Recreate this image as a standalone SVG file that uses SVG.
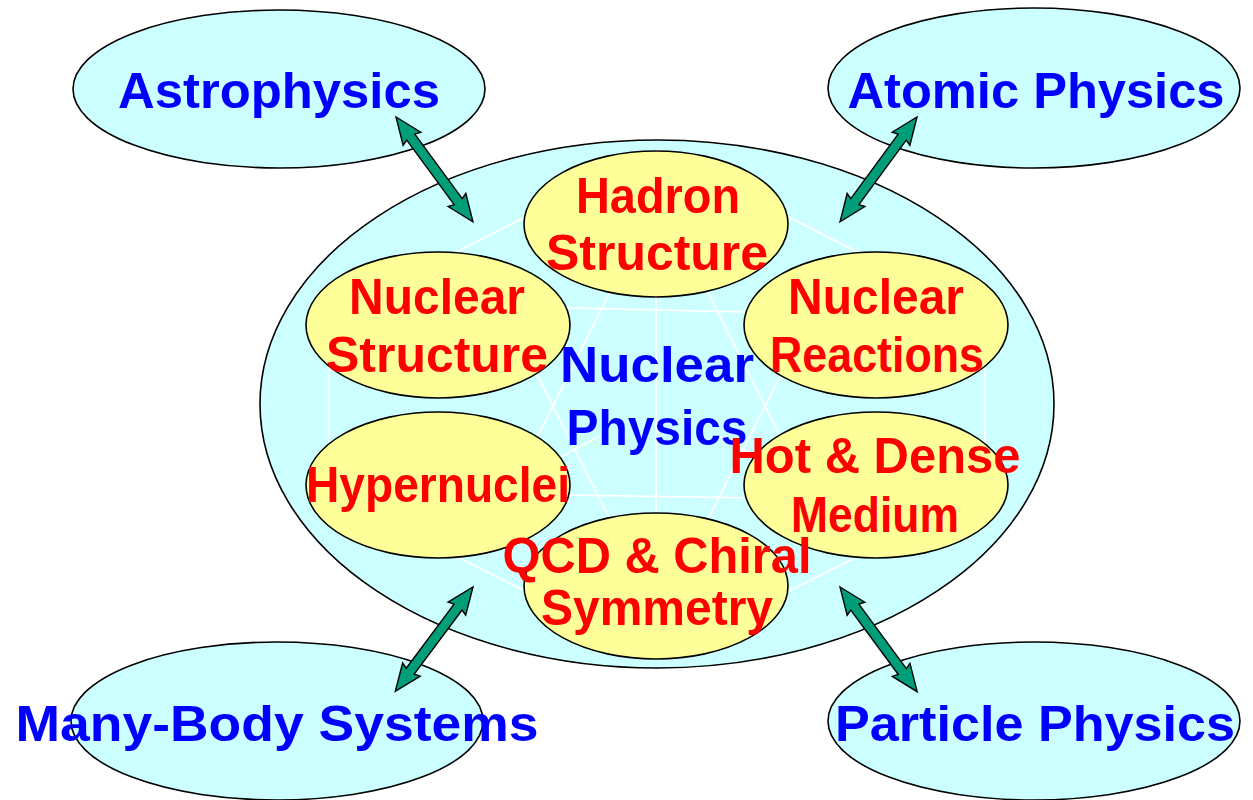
<svg xmlns="http://www.w3.org/2000/svg" width="1253" height="800" viewBox="0 0 1253 800">
<style>
  .cyan { fill: #CCFFFF; stroke: #000; stroke-width: 1.6; }
  .yellow { fill: #FFFF99; stroke: #000; stroke-width: 1.6; }
  .net { fill: none; stroke: #FFFFFF; stroke-width: 1.8; }
  .arrow { fill: #009E78; stroke: #000; stroke-width: 1.4; stroke-linejoin: miter; }
  text { font-family: "Liberation Sans", Arial, sans-serif; font-weight: bold; font-size: 50px; text-anchor: middle; }
  .blue { fill: #0000FF; }
  .red { fill: #FF0000; }
</style>
<defs>
  <polygon id="dbl" points="0,0 27,-11 25,-5 105,-5 103,-11 130,0 103,11 105,5 25,5 27,11"/>
</defs>

<g id="astrophysics">
  <ellipse class="cyan" cx="279" cy="89" rx="206" ry="79"/>
  <text class="blue" x="279" y="108" textLength="322" lengthAdjust="spacingAndGlyphs">Astrophysics</text>
</g>
<g id="atomic-physics">
  <ellipse class="cyan" cx="1034" cy="88" rx="206" ry="80"/>
  <text class="blue" x="1036" y="108" textLength="377" lengthAdjust="spacingAndGlyphs">Atomic Physics</text>
</g>
<g id="many-body-systems">
  <ellipse class="cyan" cx="277" cy="721" rx="206" ry="79"/>
  <text class="blue" x="277" y="741" textLength="523" lengthAdjust="spacingAndGlyphs">Many-Body Systems</text>
</g>
<g id="particle-physics">
  <ellipse class="cyan" cx="1034" cy="721" rx="206" ry="79"/>
  <text class="blue" x="1035" y="741" textLength="400" lengthAdjust="spacingAndGlyphs">Particle Physics</text>
</g>

<g id="nuclear-physics">
  <ellipse class="cyan" cx="657" cy="404" rx="397" ry="264"/>
  <g id="network">
    <polygon class="net" points="657,150 329,317 329,492 657,658 985,492 985,317"/>
    <line class="net" x1="440" y1="305" x2="880" y2="315"/>
    <line class="net" x1="440" y1="493" x2="880" y2="500"/>
    <line class="net" x1="656" y1="200" x2="656" y2="600"/>
    <line class="net" x1="620" y1="272" x2="520" y2="472"/>
    <line class="net" x1="520" y1="341" x2="620" y2="539"/>
    <line class="net" x1="698" y1="272" x2="798" y2="472"/>
    <line class="net" x1="798" y1="341" x2="698" y2="539"/>
    <line class="net" x1="540" y1="468" x2="600" y2="436"/>
    <line class="net" x1="778" y1="468" x2="718" y2="436"/>
  </g>
</g>

<g id="hadron-structure">
  <ellipse class="yellow" cx="656" cy="224" rx="132" ry="73"/>
</g>
<g id="nuclear-structure">
  <ellipse class="yellow" cx="438" cy="325" rx="132" ry="73"/>
</g>
<g id="nuclear-reactions">
  <ellipse class="yellow" cx="876" cy="325" rx="132" ry="73"/>
</g>
<g id="hypernuclei">
  <ellipse class="yellow" cx="438" cy="485" rx="132" ry="73"/>
</g>
<g id="hot-dense-medium">
  <ellipse class="yellow" cx="876" cy="485" rx="132" ry="73"/>
</g>
<g id="qcd-chiral-symmetry">
  <ellipse class="yellow" cx="656" cy="586" rx="132" ry="73"/>
</g>

<g id="nuclear-physics-label">
  <text class="blue" x="657" y="382" textLength="194" lengthAdjust="spacingAndGlyphs">Nuclear</text>
  <text class="blue" x="657" y="445" textLength="181" lengthAdjust="spacingAndGlyphs">Physics</text>
</g>

<g id="labels">
  <text class="red" x="658" y="213" textLength="164" lengthAdjust="spacingAndGlyphs">Hadron</text>
  <text class="red" x="657" y="270" textLength="222" lengthAdjust="spacingAndGlyphs">Structure</text>
  <text class="red" x="437" y="314" textLength="176" lengthAdjust="spacingAndGlyphs">Nuclear</text>
  <text class="red" x="437" y="372" textLength="222" lengthAdjust="spacingAndGlyphs">Structure</text>
  <text class="red" x="876" y="314" textLength="176" lengthAdjust="spacingAndGlyphs">Nuclear</text>
  <text class="red" x="877" y="372" textLength="214" lengthAdjust="spacingAndGlyphs">Reactions</text>
  <text class="red" x="438" y="502" textLength="264" lengthAdjust="spacingAndGlyphs">Hypernuclei</text>
  <text class="red" x="875" y="473" textLength="291" lengthAdjust="spacingAndGlyphs">Hot &amp; Dense</text>
  <text class="red" x="875" y="532" textLength="168" lengthAdjust="spacingAndGlyphs">Medium</text>
  <text class="red" x="657" y="573" textLength="309" lengthAdjust="spacingAndGlyphs">QCD &amp; Chiral</text>
  <text class="red" x="657" y="625" textLength="232" lengthAdjust="spacingAndGlyphs">Symmetry</text>
</g>

<g id="connectors">
  <use href="#dbl" class="arrow" transform="translate(396,117) rotate(53.7)"/>
  <use href="#dbl" class="arrow" transform="translate(917,117) rotate(126.3)"/>
  <use href="#dbl" class="arrow" transform="translate(473,587) rotate(126.7)"/>
  <use href="#dbl" class="arrow" transform="translate(840,587) rotate(53.6)"/>
</g>
</svg>
